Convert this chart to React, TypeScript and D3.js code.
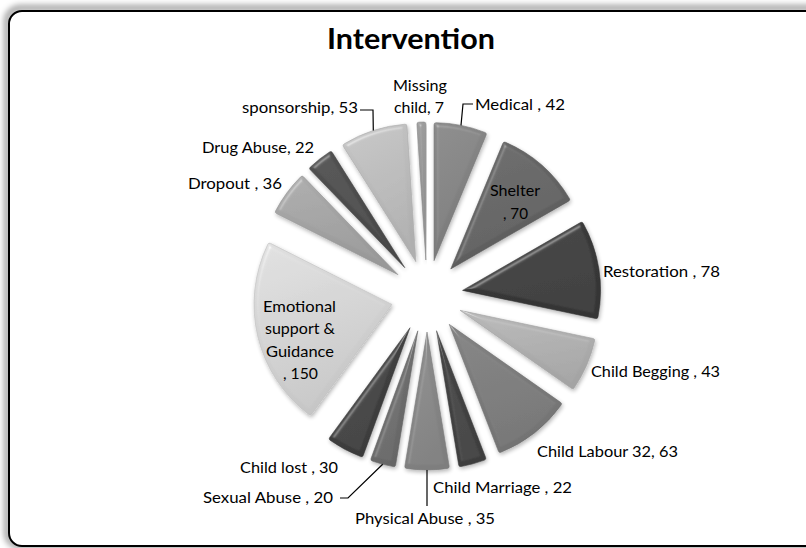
import React from "react";
import * as d3 from "d3";

const categories = [
  "Medical", "Shelter", "Restoration", "Child Begging", "Child Labour 32",
  "Child Marriage", "Physical Abuse", "Sexual Abuse", "Child lost",
  "Emotional support & Guidance", "Dropout", "Drug Abuse", "sponsorship", "Missing child",
];
const values = [42, 70, 78, 43, 63, 22, 35, 20, 30, 150, 36, 22, 53, 7];
const grays = [
  "#858585", "#656565", "#3a3a3a", "#b3b3b3", "#7e7e7e", "#444444", "#8a8a8a",
  "#707070", "#414141", "#d8d8d8", "#a6a6a6", "#4e4e4e", "#bfbfbf", "#9a9a9a",
];
const title = "Intervention";

// label text lines per slice (same order as categories)
const labelLines: string[][] = [
  ["Medical , 42"], ["Shelter", ", 70"], ["Restoration , 78"], ["Child Begging , 43"],
  ["Child Labour 32, 63"], ["Child Marriage , 22"], ["Physical Abuse , 35"],
  ["Sexual Abuse , 20"], ["Child lost , 30"],
  ["Emotional", "support &", "Guidance", ", 150"], ["Dropout , 36"], ["Drug Abuse, 22"],
  ["sponsorship, 53"], ["Missing", "child, 7"],
];

// layout: [x0, x1, yCenter] per text line
const labelLayout: number[][][] = [
  [[475, 565, 104]],
  [[490, 540, 190], [503, 528, 213]],
  [[603, 720, 271]],
  [[591, 720, 371]],
  [[537, 678, 451]],
  [[433, 572, 487]],
  [[355, 495, 518]],
  [[203, 333, 497]],
  [[240, 338, 467]],
  [[263, 336, 306], [265, 335, 328], [266, 334, 351], [283, 318, 373]],
  [[188, 282, 183]],
  [[202, 314, 147]],
  [[242, 358, 107]],
  [[393, 447, 85], [394, 444, 107]],
];

// leader lines: slice index -> points on label side (end is computed on the slice)
const leaders: { i: number; pts: number[][] }[] = [
  { i: 0, pts: [[473, 104], [463, 104]] },
  { i: 12, pts: [[360, 110], [373, 110]] },
  { i: 7, pts: [[340, 498], [348, 498]] },
  { i: 6, pts: [[427, 506]] },
];

const W = 806, H = 548;
const cx = 427, cy = 296, R = 138, EXPLODE = 36;

export default function App() {
  const data = values.map((v, i) => ({ v, i }));
  const pie = d3.pie<{ v: number; i: number }>().sort(null).value((d) => d.v).startAngle(0).endAngle(2 * Math.PI);
  const arcs = pie(data);
  const arc = d3.arc<d3.PieArcDatum<{ v: number; i: number }>>().innerRadius(0).outerRadius(R).cornerRadius(2);
  const fs = 16;
  const font = "Lato, 'Open Sans', sans-serif";

  const mid = (a: d3.PieArcDatum<any>) => (a.startAngle + a.endAngle) / 2;
  const off = (a: d3.PieArcDatum<any>) => {
    const m = mid(a);
    return [EXPLODE * Math.sin(m), -EXPLODE * Math.cos(m)];
  };
  const outerMid = (a: d3.PieArcDatum<any>) => {
    const m = mid(a);
    return [cx + (EXPLODE + R) * Math.sin(m), cy - (EXPLODE + R) * Math.cos(m)];
  };

  return (
    <div style={{ position: "absolute", left: 0, top: 0, width: W, height: H, overflow: "hidden" }}>
      <svg width={W} height={H} style={{ display: "block" }}>
        <defs>
          <filter id="blurShadow" x="-20" y="-20" width="900" height="600" filterUnits="userSpaceOnUse">
            <feGaussianBlur stdDeviation="3" />
          </filter>
          <filter id="bevel" x="-10%" y="-10%" width="120%" height="120%">
            <feGaussianBlur in="SourceAlpha" stdDeviation="2" result="blur" />
            <feSpecularLighting in="blur" surfaceScale="4" specularConstant="0.35" specularExponent="20" lightingColor="#ffffff" result="spec">
              <feDistantLight azimuth="235" elevation="35" />
            </feSpecularLighting>
            <feComposite in="spec" in2="SourceAlpha" operator="in" result="specIn" />
            <feComposite in="SourceGraphic" in2="specIn" operator="arithmetic" k1="0" k2="1" k3="0.6" k4="0" result="lit" />
            <feGaussianBlur in="SourceAlpha" stdDeviation="2" result="sh" />
            <feOffset in="sh" dx="1" dy="2" result="sho" />
            <feComponentTransfer in="sho" result="shf">
              <feFuncA type="linear" slope="0.3" />
            </feComponentTransfer>
            <feMerge>
              <feMergeNode in="shf" />
              <feMergeNode in="lit" />
            </feMerge>
          </filter>
          {arcs.map((a) => (
            <linearGradient key={a.index} id={`g${a.index}`} x1="0" y1="0" x2="0.3" y2="1">
              <stop offset="0" stopColor={d3.color(grays[a.index])!.brighter(0.1).toString()} />
              <stop offset="1" stopColor={d3.color(grays[a.index])!.darker(0.25).toString()} />
            </linearGradient>
          ))}
        </defs>
        <rect width={W} height={H} fill="#fff" />
        <rect x={7} y={8} width={860} height={538} rx={13} ry={13} fill="none" stroke="#000" strokeOpacity={0.45} strokeWidth={5} filter="url(#blurShadow)" />
        <rect x={9} y={11} width={860} height={535} rx={13} ry={13} fill="#fff" stroke="#000" strokeWidth={2} />
        <text x={411} y={48.5} textAnchor="middle" fontFamily={font} fontWeight="bold" fontSize={29} textLength={168} lengthAdjust="spacingAndGlyphs" fill="#000">
          {title}
        </text>
        <g>
          {arcs.map((a) => {
            const [dx, dy] = off(a);
            return (
              <g key={a.index} transform={`translate(${cx + dx},${cy + dy})`} filter="url(#bevel)">
                <path d={arc(a) || ""} fill={`url(#g${a.index})`} stroke={d3.color(grays[a.index])!.darker(0.35).toString()} strokeWidth={0.6} />
              </g>
            );
          })}
        </g>
        <g stroke="#000" strokeWidth={1.2} fill="none">
          {leaders.map((l) => {
            const end = outerMid(arcs[l.i]);
            const pts = [...l.pts, end];
            return <polyline key={l.i} points={pts.map((p) => p.join(",")).join(" ")} />;
          })}
        </g>
        <g fontFamily={font} fontSize={fs} fill="#000">
          {labelLines.map((lines, i) =>
            lines.map((t, j) => {
              const [x0, x1, yc] = labelLayout[i][j];
              return (
                <text key={`${i}-${j}`} x={x0} y={yc + fs * 0.36} textLength={x1 - x0} lengthAdjust="spacingAndGlyphs">
                  {t}
                </text>
              );
            })
          )}
        </g>
      </svg>
    </div>
  );
}
